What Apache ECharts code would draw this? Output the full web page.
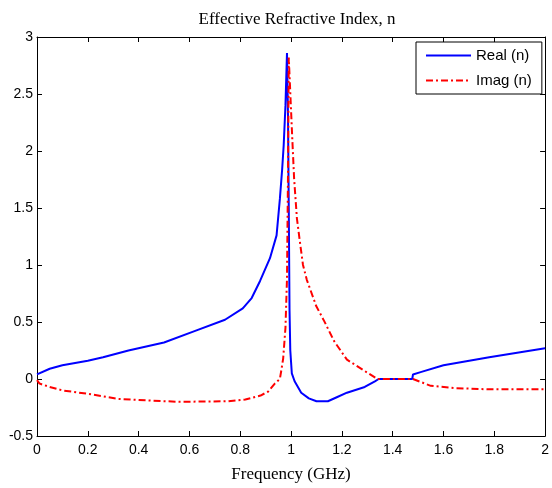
<!DOCTYPE html>
<html>
<head>
<meta charset="utf-8">
<script src="https://cdn.jsdelivr.net/npm/echarts@6/dist/echarts.min.js"></script>
<style>html,body{margin:0;padding:0;background:#fff;}#c{width:552px;height:488px;}</style>
</head>
<body>
<div id="c"></div>
<script>
// ---- data ----
var titleText = 'Effective Refractive Index, n';
var xName = 'Frequency (GHz)';
var seriesNames = ['Real (n)', 'Imag (n)'];

var realFreq = [0, 0.05, 0.1, 0.2, 0.26, 0.36, 0.5, 0.62, 0.74, 0.81, 0.845, 0.878, 0.917, 0.943, 0.956, 0.965, 0.971, 0.978, 0.984, 0.988, 0.991, 0.994, 0.997, 1.003, 1.014, 1.04, 1.07, 1.1, 1.145, 1.18, 1.22, 1.29, 1.33, 1.345, 1.477, 1.48, 1.51, 1.6, 1.78, 2.0];
var realVals = [0.04, 0.09, 0.12, 0.16, 0.19, 0.25, 0.32, 0.42, 0.52, 0.62, 0.71, 0.86, 1.06, 1.26, 1.58, 1.84, 2.05, 2.4, 2.86, 2.3, 1.5, 0.6, 0.25, 0.05, -0.02, -0.12, -0.17, -0.195, -0.195, -0.16, -0.12, -0.07, -0.02, 0, 0, 0.04, 0.06, 0.12, 0.19, 0.27];

var imagFreq = [0, 0.01, 0.05, 0.1, 0.2, 0.32, 0.45, 0.56, 0.75, 0.82, 0.88, 0.91, 0.936, 0.956, 0.962, 0.969, 0.978, 0.984, 0.988, 0.991, 1.005, 1.012, 1.023, 1.035, 1.047, 1.062, 1.099, 1.13, 1.17, 1.22, 1.29, 1.34, 1.48, 1.55, 1.65, 1.77, 2.0];
var imagVals = [-0.01, -0.04, -0.07, -0.10, -0.13, -0.175, -0.19, -0.2, -0.195, -0.18, -0.145, -0.11, -0.04, 0.0, 0.08, 0.18, 0.45, 0.88, 1.8, 2.82, 2.10, 1.76, 1.41, 1.2, 1.0, 0.87, 0.64, 0.51, 0.33, 0.17, 0.07, 0, 0, -0.06, -0.08, -0.09, -0.09];

var xMin = 0, xMax = 2, xStep = 0.2;
var yMin = -0.5, yMax = 3, yStep = 0.5;

function pairs(xs, ys) { return xs.map(function (x, i) { return [x, ys[i]]; }); }

var chart = echarts.init(document.getElementById('c'), null, {renderer: 'canvas'});
var labelFont = {fontFamily: 'Liberation Sans, Arial, sans-serif', fontSize: 14, color: '#000'};
var axisLine = {show: true, onZero: false, lineStyle: {color: '#000', width: 1}};
var tick = {show: true, inside: true, length: 5, lineStyle: {color: '#000', width: 1}};

chart.setOption({
  animation: false,
  backgroundColor: '#fff',
  title: {
    text: titleText,
    left: 292, top: 6, textAlign: 'center',
    textStyle: {fontFamily: 'Liberation Serif, Times New Roman, serif', fontSize: 17, fontWeight: 'normal', color: '#000'}
  },
  grid: {left: 37, right: 5, top: 37, bottom: 49, containLabel: false},
  legend: {
    orient: 'vertical',
    left: 416, top: 42,
    backgroundColor: '#fff',
    borderColor: '#000', borderWidth: 1, borderRadius: 0,
    padding: [6, 10, 6, 9],
    itemWidth: 45, itemHeight: 12, itemGap: 10,
    itemStyle: {opacity: 0},
    textStyle: {fontFamily: 'Liberation Sans, Arial, sans-serif', fontSize: 15, color: '#000'},
    data: seriesNames
  },
  xAxis: [{
    type: 'value', min: xMin, max: xMax, interval: xStep, position: 'bottom',
    name: xName, nameLocation: 'middle', nameGap: 30,
    nameTextStyle: {fontFamily: 'Liberation Serif, Times New Roman, serif', fontSize: 17, color: '#000'},
    axisLine: axisLine, axisTick: tick, splitLine: {show: false},
    axisLabel: Object.assign({margin: 7}, labelFont)
  }, {
    type: 'value', min: xMin, max: xMax, interval: xStep, position: 'top',
    axisLine: axisLine, axisTick: tick, splitLine: {show: false}, axisLabel: {show: false}
  }],
  yAxis: [{
    type: 'value', min: yMin, max: yMax, interval: yStep, position: 'left',
    axisLine: axisLine, axisTick: tick, splitLine: {show: false},
    axisLabel: Object.assign({margin: 4}, labelFont)
  }, {
    type: 'value', min: yMin, max: yMax, interval: yStep, position: 'right',
    axisLine: axisLine, axisTick: tick, splitLine: {show: false}, axisLabel: {show: false}
  }],
  series: [{
    name: seriesNames[0], type: 'line', xAxisIndex: 0, yAxisIndex: 0,
    data: pairs(realFreq, realVals),
    symbol: 'none', smooth: false,
    lineStyle: {color: '#0000ff', width: 2},
    itemStyle: {color: '#0000ff'}
  }, {
    name: seriesNames[1], type: 'line', xAxisIndex: 0, yAxisIndex: 0,
    data: pairs(imagFreq, imagVals),
    symbol: 'none', smooth: false,
    lineStyle: {color: '#ff0000', width: 2, type: [7, 3, 2, 3]},
    itemStyle: {color: '#ff0000'}
  }]
});
</script>
</body>
</html>
